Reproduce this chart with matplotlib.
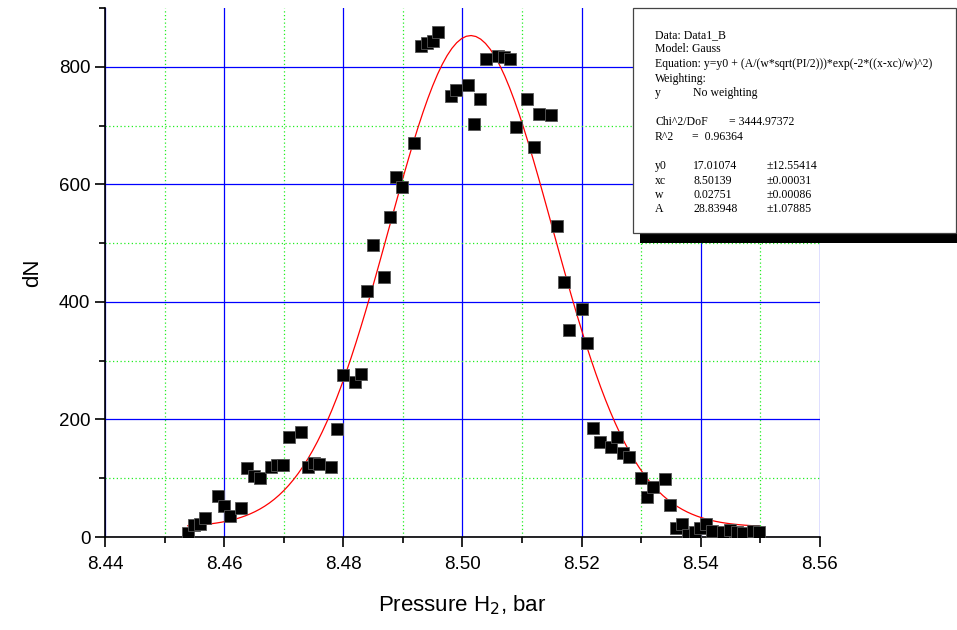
import numpy as np
import matplotlib
matplotlib.use('Agg')
import matplotlib.pyplot as plt
from matplotlib.patches import Rectangle
from matplotlib.ticker import MultipleLocator

plt.rcParams['font.family'] = ['Liberation Sans', 'DejaVu Sans']

# measured points (pressure, dN)
pressure = [8.4539, 8.4549, 8.4559, 8.4568, 8.4589, 8.4599, 8.4609, 8.4629, 8.4639, 8.4650,
            8.4660, 8.4679, 8.4688, 8.4699, 8.4709, 8.4729, 8.4740, 8.4750, 8.4760, 8.4779,
            8.4790, 8.4800, 8.4820, 8.4830, 8.4839, 8.4850, 8.4868, 8.4879, 8.4889, 8.4899,
            8.4919, 8.4930, 8.4940, 8.4950, 8.4959, 8.4980, 8.4989, 8.5009, 8.5019, 8.5029,
            8.5039, 8.5059, 8.5069, 8.5079, 8.5090, 8.5109, 8.5120, 8.5129, 8.5149, 8.5159,
            8.5170, 8.5179, 8.5200, 8.5209, 8.5219, 8.5230, 8.5249, 8.5260, 8.5269, 8.5280,
            8.5299, 8.5309, 8.5319, 8.5340, 8.5349, 8.5359, 8.5369, 8.5379, 8.5390, 8.5399,
            8.5409, 8.5419, 8.5437, 8.5449, 8.5460, 8.5470, 8.5487, 8.5498]
dN = [6, 20, 22, 33, 70, 53, 35, 49, 118, 104,
      100, 120, 122, 123, 170, 178, 119, 126, 124, 120,
      184, 276, 263, 277, 418, 497, 443, 545, 612, 596,
      670, 835, 841, 845, 859, 751, 761, 770, 703, 746,
      813, 819, 817, 814, 698, 745, 663, 720, 718, 529,
      434, 352, 388, 331, 185, 161, 154, 171, 143, 136,
      100, 68, 85, 99, 54, 15, 22, 4, 9, 16,
      22, 10, 8, 12, 9, 6, 10, 8]

# Gauss fit parameters from the fit report
y0 = 17.01074
xc = 8.50139
w = 0.02751
A = 28.83948

xfit = np.linspace(pressure[0], pressure[-1], 120)
yfit = y0 + (A / (w * np.sqrt(np.pi / 2))) * np.exp(-2 * ((xfit - xc) / w) ** 2)

fig = plt.figure(figsize=(9.57, 6.3), dpi=100)
ax = fig.add_axes([0.1097, 0.1476, 0.7471, 0.8394])

ax.plot(xfit, yfit, color='red', lw=0.9, zorder=3)
ax.plot(pressure, dN, 's', color='black', markersize=8, markeredgecolor='#555555',
        markeredgewidth=0.6, zorder=4)

ax.set_xlim(8.44, 8.56)
ax.set_ylim(0, 900)
ax.xaxis.set_major_locator(MultipleLocator(0.02))
ax.xaxis.set_minor_locator(MultipleLocator(0.01))
ax.yaxis.set_major_locator(MultipleLocator(200))
ax.yaxis.set_minor_locator(MultipleLocator(100))
ax.set_xticks([8.44, 8.46, 8.48, 8.50, 8.52, 8.54, 8.56])
ax.set_xticklabels(['8.44', '8.46', '8.48', '8.50', '8.52', '8.54', '8.56'])
ax.set_yticks([0, 200, 400, 600, 800])

ax.grid(which='major', color='#0000ff', lw=0.9, ls='-')
ax.grid(which='minor', color='#22ee22', lw=0.9, ls=(0, (1, 2)))
ax.set_axisbelow(True)
# no grid line along the top edge
for t, loc in zip(ax.yaxis.get_minor_ticks(), ax.yaxis.get_minorticklocs()):
    if loc > 850:
        t.gridline.set_visible(False)

for s in ['top', 'right']:
    ax.spines[s].set_visible(False)
for s in ['left', 'bottom']:
    ax.spines[s].set_linewidth(1.2)
ax.tick_params(which='major', direction='out', length=7, width=1.2, labelsize=13.5)
ax.tick_params(axis='x', which='major', pad=7)
ax.tick_params(which='minor', direction='out', length=4, width=1.2)

ax.set_xlabel('Pressure H$_2$, bar', fontsize=16, labelpad=14)
ax.set_ylabel('dN', fontsize=16, labelpad=11)

# fit report box
fig.patches.append(Rectangle((640 / 957, 1 - 243 / 630), 317 / 957, 12 / 630,
                             transform=fig.transFigure, facecolor='black',
                             edgecolor='none', zorder=10))
fig.patches.append(Rectangle((633 / 957, 1 - 233 / 630), 323 / 957, 225 / 630,
                             transform=fig.transFigure, facecolor='white',
                             edgecolor='#444444', lw=0.9, zorder=11))

serif = ['Liberation Serif', 'DejaVu Serif']
def txt(px, py, s):
    fig.text(px / 957, 1 - py / 630, s, fontsize=8.5, family=serif,
             va='center', ha='left', zorder=12)

txt(655, 35, 'Data: Data1_B')
txt(655, 49, 'Model: Gauss')
txt(655, 64, 'Equation: y=y0 + (A/(w*sqrt(PI/2)))*exp(-2*((x-xc)/w)^2)')
txt(655, 79, 'Weighting:')
txt(655, 93, 'y')
txt(693, 93, 'No weighting')
txt(655, 122, 'Chi^2/DoF')
txt(729, 122, '= 3444.97372')
txt(655, 137, 'R^2')
txt(692, 137, '=  0.96364')
rows = [('y0', '17.01074', '±12.55414'),
        ('xc', '8.50139', '±0.00031'),
        ('w', '0.02751', '±0.00086'),
        ('A', '28.83948', '±1.07885')]
for i, (name, val, err) in enumerate(rows):
    py = 166 + i * 14.5
    txt(655, py, name)
    txt(693, py, val)
    txt(767, py, err)

fig.savefig('out.png', dpi=100)
